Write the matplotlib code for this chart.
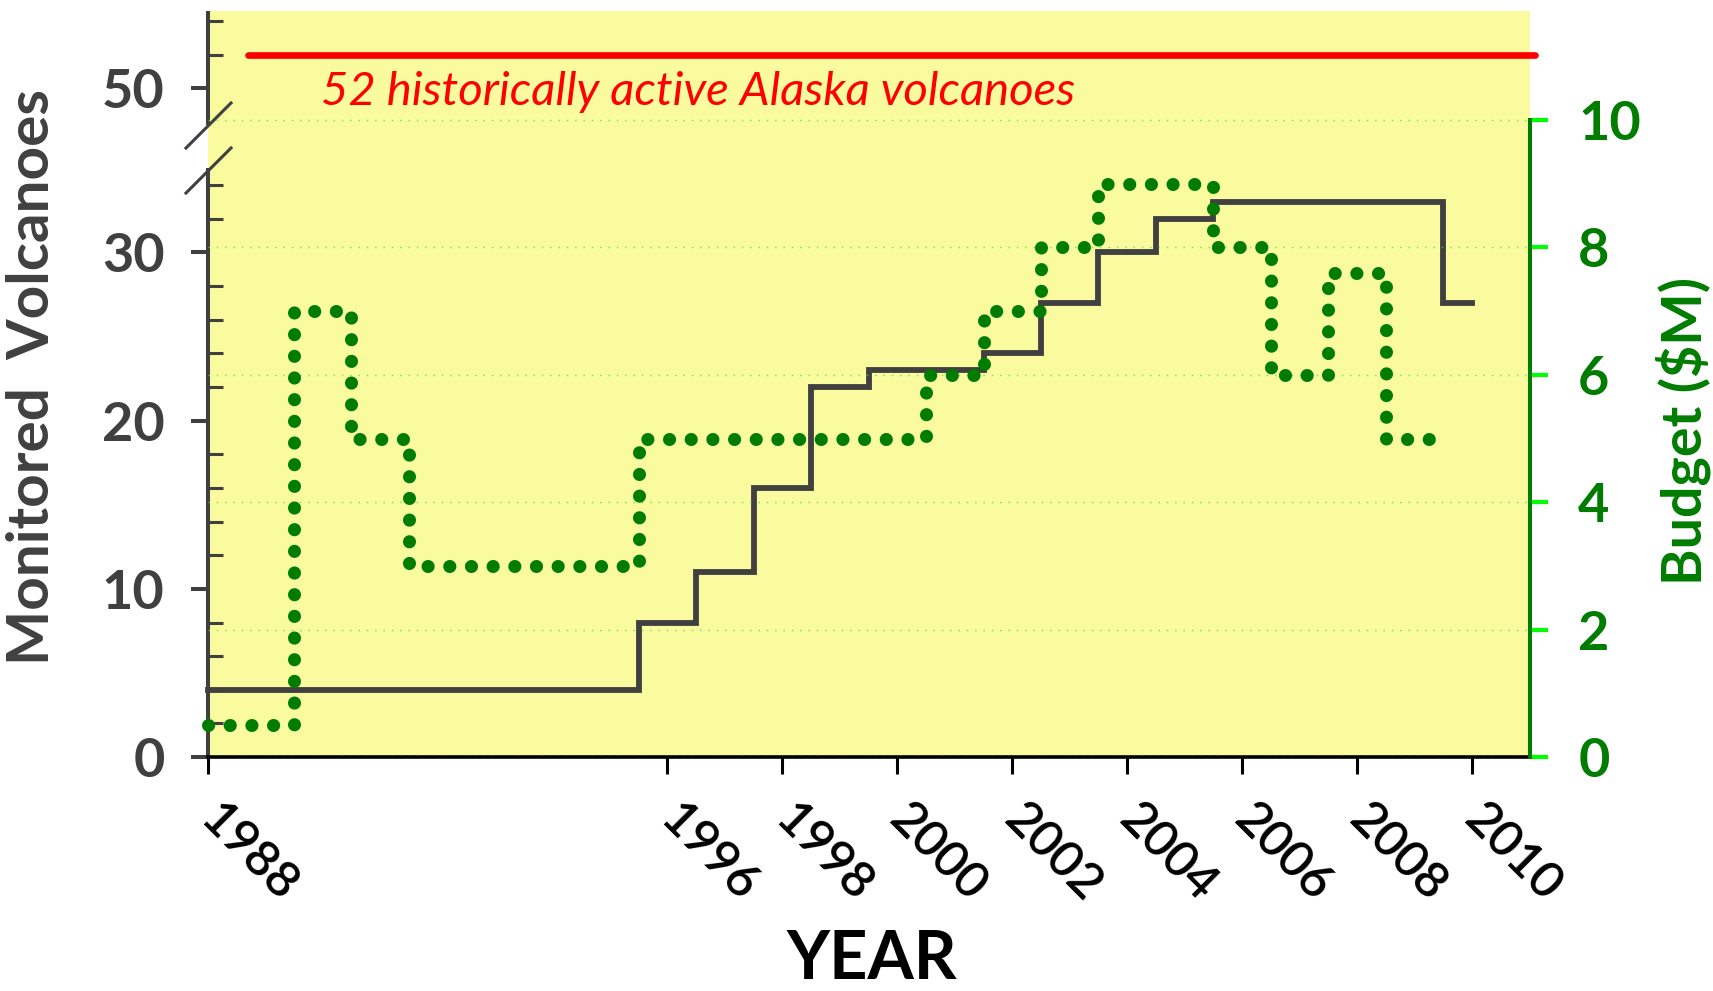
import numpy as np
import matplotlib
matplotlib.use("Agg")
import matplotlib.pyplot as plt

plt.rcParams['font.family'] = ['Lato', 'DejaVu Sans']

# monitored volcanoes, one value per year (steps centred on the year)
years = np.arange(1988, 2011)
monitored = [4, 4, 4, 4, 4, 4, 4, 4, 8, 11, 16, 22, 23, 23, 24, 27, 30, 32,
             33, 33, 33, 33, 27]

# budget in $M
budget_years = np.arange(1988, 2010)
budget = [0.5, 0.5, 7, 5, 3, 3, 3, 3, 5, 5, 5, 5, 5, 6, 7, 8, 9, 9, 8, 6, 7.6, 5]

historic_count = 52
historic_span = [1988.7, 2011.1]

xtick_years = [1988, 1996, 1998, 2000, 2002, 2004, 2006, 2008, 2010]
left_major = [0, 10, 20, 30, 50]
left_minor = [v for v in range(2, 35, 2) if v % 10] + [52, 54]
right_ticks = [0, 2, 4, 6, 8, 10]

GRAY = '#404040'
DKGREEN = '#007D00'
LIME = '#33EE33'
YELLOW = '#F9FB9E'


# broken left axis: 0-35 kept linear, 47-55 shifted down
def fwd(v):
    v = np.asarray(v, dtype=float)
    return np.where(v <= 35, v,
                    np.where(v >= 47, v - 10.25, 35 + (v - 35) * 1.75 / 12))


def inv(u):
    u = np.asarray(u, dtype=float)
    return np.where(u <= 35, u,
                    np.where(u >= 36.75, u + 10.25, 35 + (u - 35) * 12 / 1.75))


fig = plt.figure(figsize=(17.13, 9.91), dpi=100)
ax = fig.add_axes([0.1212, 0.2360, 0.7717, 0.7529])
ax.set_facecolor(YELLOW)
ax.set_yscale('function', functions=(fwd, inv))
ax.set_ylim(0, 54.6)
ax.set_xlim(1988, 2011)

ax2 = ax.twinx()
ax2.set_ylim(0, 11.71)

# grid from the budget axis
ax2.set_yticks(right_ticks)
ax2.grid(axis='y', color=LIME, ls=(0, (1, 5)), lw=1.0, alpha=0.8)

# lines
ax.step(years, monitored, where='mid', color=GRAY, lw=4.2,
        solid_joinstyle='miter', clip_on=False, zorder=3)
ax2.step(np.append(budget_years, budget_years[-1] + 0.5),
         np.append(budget, budget[-1]), where='mid', color=DKGREEN,
         lw=9.4, ls=(0, (0.01, 1.65)), dash_capstyle='round', clip_on=False)
ax.plot(historic_span, [historic_count] * 2, color='#FF0000', lw=4.8,
        solid_capstyle='round', clip_on=False, zorder=4)
ax.text(1989.98, 49.0, '52 historically active Alaska volcanoes',
        color='#FF0000', style='italic', fontsize=34, ha='left', va='baseline')

# spines
for s in ['top', 'right']:
    ax.spines[s].set_visible(False)
for s in ['top', 'left', 'bottom']:
    ax2.spines[s].set_visible(False)
ax.spines['left'].set_color(GRAY)
ax.spines['left'].set_linewidth(2.9)
ax.spines['left'].set_bounds(0, 34.9)
ax.spines['bottom'].set_color('black')
ax.spines['bottom'].set_linewidth(2.6)
ax2.spines['right'].set_color(DKGREEN)
ax2.spines['right'].set_linewidth(2.9)
ax2.spines['right'].set_bounds(0, 10)

# upper piece of the broken axis and the break marks
ax.plot([1988, 1988], [47.8, 54.6], color=GRAY, lw=2.9, clip_on=False,
        solid_capstyle='butt')
ax.plot([1988, 1988], [34.9, 47.8], ls='none', marker=[(-1, -1), (1, 1)],
        ms=34, mew=2.2, color=GRAY, clip_on=False, zorder=5)

# left ticks
ax.set_yticks(left_major, labels=[str(v) for v in left_major])
ax.set_yticks(left_minor, minor=True)
ax.tick_params(axis='y', which='major', direction='out', length=12, width=2.9,
               color=GRAY, labelcolor=GRAY, labelsize=39, pad=19)
ax.tick_params(axis='y', which='minor', direction='in', length=11, width=2.2,
               color=GRAY)
for t in ax.get_yticklabels():
    t.set_fontweight('bold')

# right ticks
ax2.set_yticks(right_ticks, labels=[str(v) for v in right_ticks])
ax2.tick_params(axis='y', direction='out', length=13, width=3, color='#00FF00',
                labelcolor=DKGREEN, labelsize=39, pad=22)
for t in ax2.get_yticklabels():
    t.set_fontweight('bold')

# x ticks
ax.set_xticks(xtick_years, labels=[str(y) for y in xtick_years])
ax.tick_params(axis='x', direction='out', length=12, width=2.2, color='black',
               labelsize=36, pad=27)
for t in ax.get_xticklabels():
    t.set_rotation(-45)
    t.set_rotation_mode('anchor')
    t.set_ha('left')
    t.set_va('center')
    t.set_fontweight('semibold')

fig.text(33 / 1713, 1 - 377 / 991, 'Monitored  Volcanoes', rotation=90,
         ha='center', va='center', fontsize=42, fontweight='bold', color=GRAY)
fig.text(1683 / 1713, 1 - 431 / 991, r'Budget (\$M)', rotation=90,
         ha='center', va='center', fontsize=40, fontweight='bold', color=DKGREEN)
fig.text(0.509, 0.012, 'YEAR', ha='center', va='baseline', fontsize=48,
         fontweight='bold', color='black')

fig.savefig('out.png', dpi=100)
